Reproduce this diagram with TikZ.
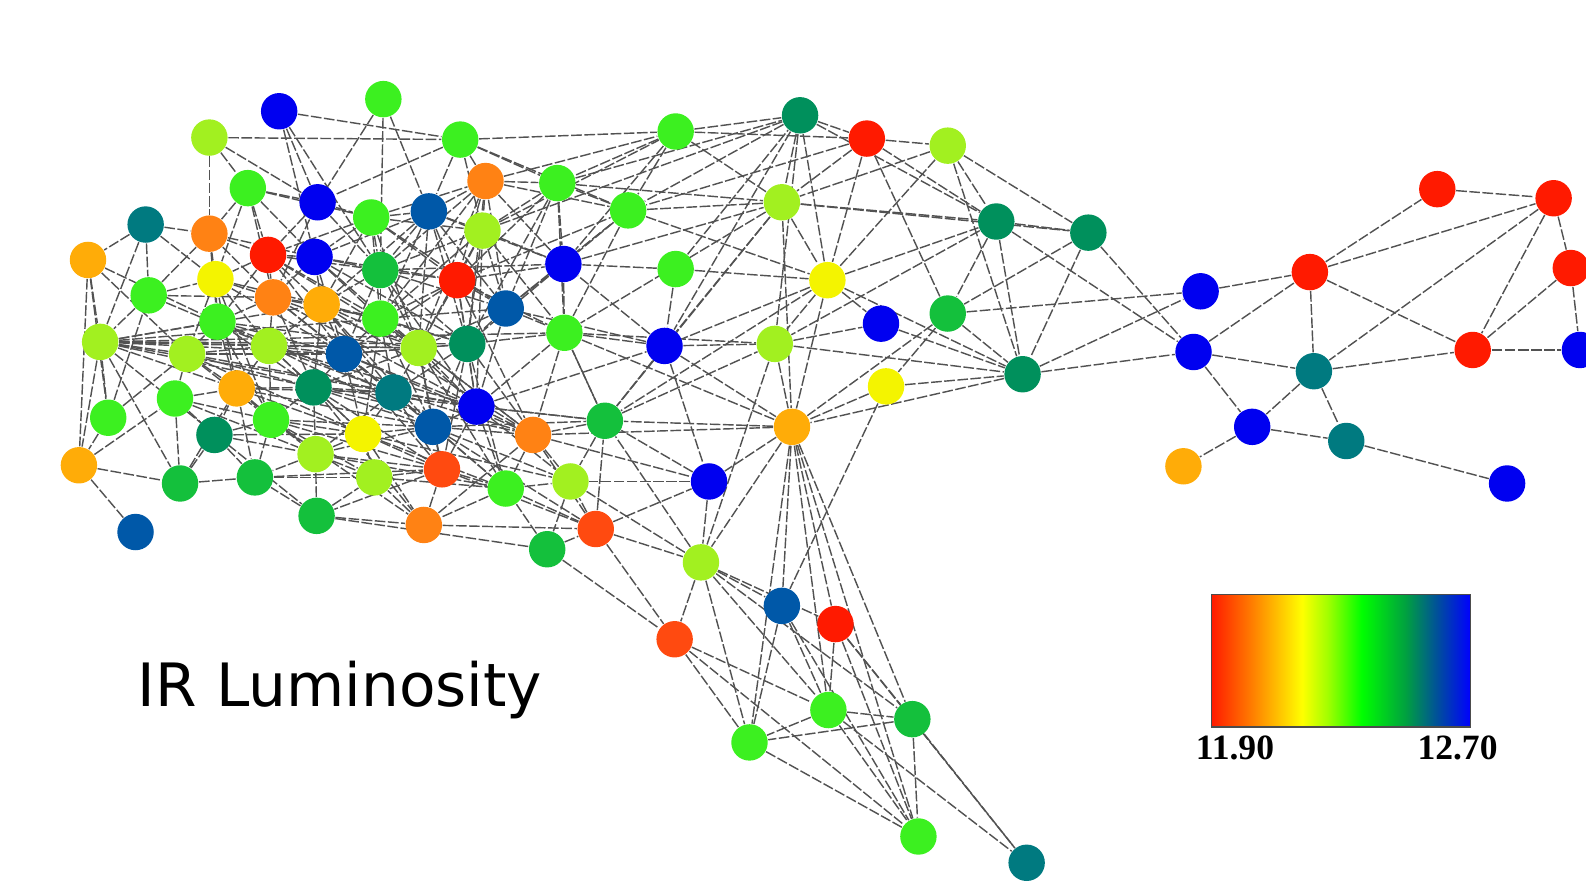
\documentclass[tikz,border=0pt]{standalone}
\usepackage{fontspec}
\newfontfamily\labelfont{DejaVu Sans}
\newfontfamily\barfont{Liberation Serif}
\usetikzlibrary{backgrounds}
\definecolor{cR}{HTML}{FF1A00}
\definecolor{cOR}{HTML}{FF4A10}
\definecolor{cO}{HTML}{FF8214}
\definecolor{cOY}{HTML}{FFAC08}
\definecolor{cY}{HTML}{F4F400}
\definecolor{cYG}{HTML}{A2F020}
\definecolor{cLG}{HTML}{3CF020}
\definecolor{cG}{HTML}{14C03C}
\definecolor{cTG}{HTML}{00905C}
\definecolor{cT}{HTML}{007A80}
\definecolor{cDB}{HTML}{0058A8}
\definecolor{cB}{HTML}{0000F0}
\definecolor{barO}{HTML}{FF7A00}
\definecolor{barY}{HTML}{FFFF00}
\definecolor{barYG}{HTML}{A0FF00}
\definecolor{barG}{HTML}{00FF00}
\definecolor{barTG}{HTML}{00A040}
\definecolor{barDB}{HTML}{00509A}
\definecolor{barB}{HTML}{0000FF}
\pgfdeclarehorizontalshading{lumbar}{100bp}{color(0bp)=(cR); color(25bp)=(cR);
  color(32.5bp)=(barO); color(42.5bp)=(barY); color(47.5bp)=(barYG); color(54bp)=(barG);
  color(62.5bp)=(barTG); color(68.5bp)=(barDB); color(75bp)=(barB); color(100bp)=(barB)}

\tikzset{
  gal/.style={circle, inner sep=0pt, minimum size=0.36cm},
  link/.style={draw=black!68, line width=0.4pt, dash pattern=on 3pt off 0.7pt}
}

\begin{document}
\begin{tikzpicture}[x=0.01cm, y=-0.01cm]
  \useasboundingbox (0,0) rectangle (1568,876);
  \clip (0,0) rectangle (1568,876);

  % galaxies
  \foreach \n/\x/\y/\c in {
    1/276/110/cB, 2/379/98/cLG, 3/207/136/cYG, 4/455/138/cLG, 5/245/186/cLG,
    6/314/200/cB, 7/367/215/cLG, 8/424/209/cDB, 9/480/179/cO, 10/551/181/cLG,
    11/144/222/cT, 12/207/231/cO, 13/87/257/cOY, 14/265/252/cR, 15/311/254/cB,
    16/376/267/cG, 17/477/228/cYG, 18/452/277/cR, 19/557/261/cB, 20/147/292/cLG,
    21/213/276/cY, 22/270/294/cO, 23/318/301/cOY, 24/376/315/cLG, 25/500/305/cDB,
    26/99/338/cYG, 27/185/350/cYG, 28/215/318/cLG, 29/266/342/cYG, 30/340/350/cDB,
    31/414/344/cYG, 32/462/340/cTG, 33/558/329/cLG, 34/173/394/cLG, 35/234/384/cOY,
    36/310/383/cTG, 37/389/388/cT, 38/471/402/cB, 39/107/413/cLG, 40/212/430/cTG,
    41/268/415/cLG, 42/312/449/cYG, 43/359/429/cY, 44/428/422/cDB, 45/527/430/cO,
    46/598/416/cG, 47/78/460/cOY, 48/178/478/cG, 49/252/472/cG, 50/370/472/cYG,
    51/437/464/cOR, 52/500/483/cLG, 53/564/476/cYG, 54/134/526/cDB, 55/313/510/cG,
    56/419/519/cO, 57/541/543/cG, 58/589/523/cOR, 59/668/130/cLG, 60/791/114/cTG,
    61/857/137/cR, 62/937/144/cYG, 63/621/208/cLG, 64/773/200/cYG, 65/668/266/cLG,
    66/818/277/cY, 67/985/219/cTG, 68/1076/230/cTG, 69/657/342/cB, 70/766/340/cYG,
    71/871/320/cB, 72/937/310/cG, 73/876/382/cY, 74/1011/370/cTG, 75/783/422/cOY,
    76/701/476/cB, 77/693/556/cYG, 78/773/599/cDB, 79/826/617/cR, 80/667/632/cOR,
    81/819/702/cLG, 82/902/711/cG, 83/741/734/cLG, 84/908/827/cLG, 85/1015/853/cT,
    86/1187/288/cB, 87/1180/348/cB, 88/1295/269/cR, 89/1421/187/cR, 90/1536/196/cR,
    91/1553/265/cR, 92/1456/346/cR, 93/1562/346/cB, 94/1299/367/cT, 95/1238/422/cB,
    96/1331/436/cT, 97/1170/461/cOY, 98/1490/478/cB}
    \node[gal, fill=\c] (g\n) at (\x,\y) {};

  % links
  \begin{scope}[on background layer]
    \foreach \a/\b in {
      3/4, 3/12, 3/6, 3/5, 1/4, 1/6, 1/15, 1/16, 2/6, 2/8, 2/16, 4/6, 4/9, 4/10,
      4/17, 4/8, 4/59, 4/63, 5/14, 5/15, 5/22, 5/21, 5/12, 5/6, 11/13, 11/20, 11/21,
      11/26, 11/12, 13/26, 13/47, 13/39, 13/27, 13/28, 12/21, 12/14, 12/15, 20/21,
      20/26, 20/12, 26/47, 26/27, 26/28, 26/29, 26/30, 26/39, 26/48, 26/55, 26/35,
      26/23, 26/31, 26/32, 26/33, 39/47, 39/20, 39/27, 47/48, 47/54, 47/34, 48/49,
      48/40, 48/35, 55/49, 55/56, 55/42, 55/57, 55/50, 56/51, 56/50, 56/58, 56/45,
      57/58, 57/52, 57/80, 58/80, 58/77, 58/76, 58/45, 58/53, 58/46,
      7/8, 7/15, 7/16, 7/17, 7/18, 7/24, 7/31, 7/9, 8/9, 8/17, 8/16, 8/18, 8/25,
      8/24, 8/32, 8/19, 9/10, 9/17, 9/18, 9/25, 9/19, 9/24, 9/16, 10/17, 10/19,
      10/25, 10/33, 10/18, 10/32, 14/15, 14/21, 14/22, 14/23, 14/16, 14/28, 15/16,
      15/22, 15/23, 15/24, 15/30, 16/18, 16/23, 16/24, 16/31, 16/32, 16/17, 16/30,
      17/18, 17/25, 17/24, 17/19, 17/32, 17/31, 18/25, 18/24, 18/32, 18/31, 18/19,
      18/30, 18/38, 19/25, 19/33, 19/32, 21/22, 21/28, 21/27, 21/29, 22/23, 22/28,
      22/29, 22/30, 22/24, 23/24, 23/29, 23/30, 23/31, 23/36, 24/31, 24/30, 24/32,
      24/25, 24/37, 25/32, 25/33, 25/38, 25/31, 27/28, 27/29, 27/34, 27/35, 27/30,
      27/41, 28/29, 28/35, 28/30, 29/30, 29/35, 29/36, 29/41, 29/31, 30/31, 30/36,
      30/37, 30/32, 30/43, 30/44, 31/32, 31/37, 31/38, 31/44, 31/36, 32/33, 32/38,
      32/45, 32/44, 32/37, 33/38, 33/45, 33/46, 34/35, 34/40, 34/41, 34/48, 35/36,
      35/40, 35/41, 35/42, 35/37, 36/37, 36/41, 36/42, 36/43, 36/44, 37/38, 37/43,
      37/44, 37/51, 37/42, 38/44, 38/45, 38/51, 38/52, 38/46, 40/41, 40/49, 40/42,
      41/42, 41/43, 41/49, 41/50, 42/43, 42/50, 42/49, 42/51, 43/44, 43/50, 43/51,
      43/52, 44/45, 44/51, 44/52, 44/53, 45/52, 45/53, 49/50, 50/51, 51/52, 52/53,
      51/55, 52/56, 53/57, 23/45, 22/38, 29/44, 27/38, 24/45, 28/31, 38/69, 45/76,
      44/58, 51/58, 52/58,
      14/24, 14/30, 15/31, 15/18, 21/30, 21/23, 22/31, 22/36, 23/37, 23/32, 28/36,
      28/37, 29/37, 29/43, 35/43, 35/44, 36/51, 36/38, 41/44, 41/51, 42/44, 40/43,
      27/36, 27/43, 26/36, 26/37, 26/24, 20/29, 20/22, 12/22, 12/28, 6/16, 6/14,
      6/22, 6/7, 5/7, 7/14, 7/23, 8/15, 8/23, 9/31, 9/32, 17/33, 17/38, 18/33, 18/45,
      24/38, 24/44, 30/38, 30/45, 31/45, 31/51, 32/51, 32/52, 37/45, 37/52, 43/53,
      44/46, 38/53, 16/25, 16/38, 42/52, 50/52, 49/51, 41/56, 36/56, 43/56, 21/35,
      21/41, 28/41, 34/42, 35/49, 22/37, 23/44, 24/43, 29/38, 30/51, 31/52, 36/45,
      15/32, 14/31, 16/19, 7/25, 8/31,
      59/60, 59/10, 59/63, 59/19, 59/64, 59/61, 60/61, 60/64, 60/66, 60/63, 60/69,
      60/70, 60/67, 61/62, 61/64, 61/66, 61/72, 61/63, 61/67, 62/67, 62/68, 62/66,
      62/74, 62/64, 63/19, 63/10, 63/64, 63/66, 63/33, 64/66, 64/67, 64/69, 64/46,
      64/75, 64/33, 64/68, 65/19, 65/69, 65/66, 65/60, 66/71, 66/75, 66/70, 66/69,
      66/46, 66/67, 66/74, 67/68, 67/72, 67/74, 67/70, 68/74, 68/72, 69/19, 69/33,
      69/46, 69/75, 69/70, 69/25, 69/76, 70/75, 70/74, 70/77, 70/71, 71/74, 72/74,
      72/75, 72/73, 73/74, 73/75, 73/78, 74/75, 75/76, 75/77, 75/78, 75/79, 75/81,
      75/82, 75/83, 75/46, 75/84, 76/46, 76/77, 76/53, 77/80, 77/78, 77/79, 77/81,
      77/83, 77/53, 77/46, 77/82, 78/81, 78/83, 78/84, 79/81, 79/82, 79/84, 79/85,
      80/83, 80/81, 80/84, 81/82, 81/83, 81/84, 81/85, 82/83, 82/84, 82/85, 83/84,
      46/45, 46/53, 46/33, 46/38, 10/60, 9/59, 17/60, 18/63, 17/59, 10/64, 9/63,
      19/64, 33/70, 25/63, 33/75, 45/75, 46/70,
      86/88, 87/88, 88/89, 88/90, 89/90, 88/94, 88/92, 90/91, 90/92, 90/94, 91/92,
      91/93, 92/93, 94/92, 87/94, 87/95, 94/95, 94/96, 95/96, 95/97, 96/98, 67/87,
      68/87, 74/86, 74/87, 72/86}
      \draw[link] (g\a) -- (g\b);
  \end{scope}

  \node[anchor=base west, font=\labelfont\fontsize{16.8}{20}\selectfont] (title) at (124,698) {IR Luminosity};

  % colour bar
  \node[draw=black!70, line width=0.4pt, shading=lumbar, inner sep=0pt,
        minimum width=2.56cm, minimum height=1.31cm, anchor=north west] (bar) at (1197,587) {};
  \node[anchor=base, font=\barfont\bfseries\fontsize{10}{12}\selectfont] (lo) at (1221,751) {11.90};
  \node[anchor=base, font=\barfont\bfseries\fontsize{10}{12}\selectfont] (hi) at (1441,751) {12.70};
\end{tikzpicture}
\end{document}
